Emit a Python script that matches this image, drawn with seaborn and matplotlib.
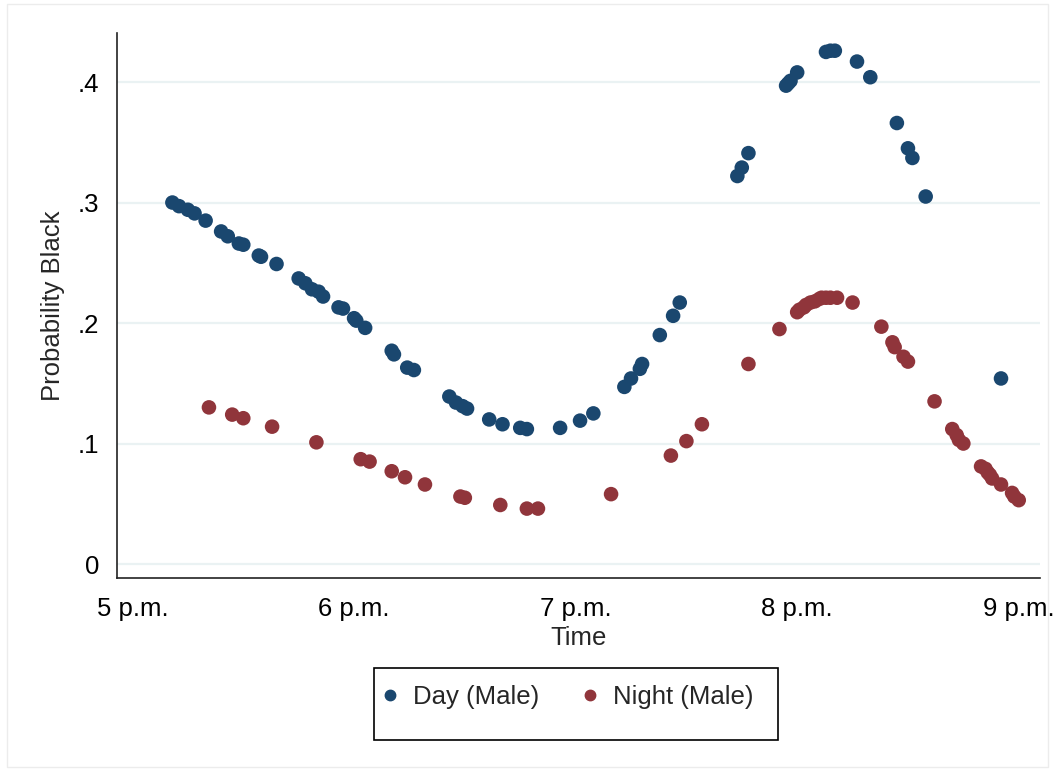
import numpy as np
import pandas as pd
import matplotlib
matplotlib.use("Agg")
import matplotlib.pyplot as plt
import seaborn as sns
from matplotlib.patches import Rectangle
from matplotlib.lines import Line2D

# ---- data (time in decimal hours, probability) ----
day_time = [17.18, 17.21, 17.25, 17.28, 17.33, 17.40, 17.43, 17.48, 17.50, 17.57,
            17.58, 17.65, 17.75, 17.78, 17.81, 17.84, 17.86, 17.93, 17.95, 18.00,
            18.01, 18.05, 18.17, 18.18, 18.24, 18.27, 18.43, 18.46, 18.49, 18.51,
            18.61, 18.67, 18.75, 18.78, 18.93, 19.02, 19.08, 19.22, 19.25, 19.29,
            19.30, 19.38, 19.44, 19.47, 19.73, 19.75, 19.78, 19.95, 19.96, 19.97,
            20.00, 20.13, 20.15, 20.17, 20.27, 20.33, 20.45, 20.50, 20.52, 20.58,
            20.92]
day_prob = [.300, .297, .294, .291, .285, .276, .272, .266, .265, .256,
            .255, .249, .237, .233, .228, .226, .222, .213, .212, .204,
            .202, .196, .177, .174, .163, .161, .139, .134, .131, .129,
            .120, .116, .113, .112, .113, .119, .125, .147, .154, .162,
            .166, .190, .206, .217, .322, .329, .341, .397, .399, .401,
            .408, .425, .426, .426, .417, .404, .366, .345, .337, .305,
            .154]

night_time = [17.345, 17.45, 17.50, 17.63, 17.83, 18.03, 18.07, 18.17, 18.23, 18.32,
              18.48, 18.50, 18.66, 18.78, 18.83, 19.16, 19.43, 19.50, 19.57, 19.78,
              19.92, 20.00, 20.01, 20.03, 20.04, 20.06, 20.08, 20.10, 20.11, 20.13,
              20.15, 20.18, 20.25, 20.38, 20.43, 20.44, 20.48, 20.50, 20.62, 20.70,
              20.72, 20.73, 20.75, 20.83, 20.85, 20.86, 20.87, 20.88, 20.92, 20.97,
              20.98, 21.00]
night_prob = [.130, .124, .121, .114, .101, .087, .085, .077, .072, .066,
              .056, .055, .049, .046, .046, .058, .090, .102, .116, .166,
              .195, .209, .211, .213, .215, .217, .218, .220, .221, .221,
              .221, .221, .217, .197, .184, .180, .172, .168, .135, .112,
              .107, .103, .100, .081, .079, .076, .074, .071, .066, .059,
              .056, .053]

series_labels = ["Day (Male)", "Night (Male)"]
x_ticks = [17, 18, 19, 20, 21]
x_ticklabels = ["5 p.m.", "6 p.m.", "7 p.m.", "8 p.m.", "9 p.m."]
y_ticks = [0, 0.1, 0.2, 0.3, 0.4]
y_ticklabels = ["0", ".1", ".2", ".3", ".4"]

df = pd.concat([
    pd.DataFrame({"Time": day_time, "Prob": day_prob, "Series": series_labels[0]}),
    pd.DataFrame({"Time": night_time, "Prob": night_prob, "Series": series_labels[1]}),
], ignore_index=True)

sns.set_style("white")
plt.rcParams["font.family"] = ["Liberation Sans", "DejaVu Sans"]

FS = 18.5

fig = plt.figure(figsize=(10.55, 7.71), dpi=100)
fig.patch.set_facecolor("white")
# faint outer graph-region frame
fig.add_artist(Rectangle((7 / 1055, 0.005), 1 - 14 / 1055, 0.99, transform=fig.transFigure,
                         fill=False, edgecolor="#ececec", linewidth=1.0))

ax = fig.add_axes([117 / 1055, 1 - 578 / 771, (1040 - 117) / 1055, (578 - 33) / 771])

palette = {series_labels[0]: "#1a476f", series_labels[1]: "#90353b"}
sns.scatterplot(data=df, x="Time", y="Prob", hue="Series", palette=palette,
                s=110, edgecolor="none", linewidth=0, ax=ax, zorder=3, legend=False)

ax.set_xlim(16.93, 21.096)
ax.set_ylim(-0.0116, 0.4407)

for yv in y_ticks:
    ax.axhline(yv, color="#eaf2f3", linewidth=1.6, zorder=1)

ax.set_xticks(x_ticks)
ax.set_xticklabels(x_ticklabels, fontsize=FS)
ax.set_yticks(y_ticks)
ax.set_yticklabels(y_ticklabels, fontsize=FS)
ax.tick_params(axis="both", direction="out", length=8, width=1.2, color="#222222",
               labelcolor="black")
ax.tick_params(axis="y", pad=5)
ax.tick_params(axis="x", pad=6)

for side in ["top", "right"]:
    ax.spines[side].set_visible(False)
for side in ["left", "bottom"]:
    ax.spines[side].set_color("#222222")
    ax.spines[side].set_linewidth(1.2)

ax.set_xlabel("Time", fontsize=FS, labelpad=3)
ax.set_ylabel("Probability Black", fontsize=FS, labelpad=9)

# legend box (Stata style) and entries
fig.add_artist(Rectangle((374 / 1055, 1 - 740 / 771), (778 - 374) / 1055, (740 - 668) / 771,
                         transform=fig.transFigure, fill=False, edgecolor="black",
                         linewidth=1.2))
handles = [Line2D([0], [0], marker="o", linestyle="none", markersize=7.5,
                  markerfacecolor=palette[l], markeredgecolor=palette[l]) for l in series_labels]
leg = fig.legend(handles, series_labels, loc="center left",
                 bbox_to_anchor=(377 / 1055, 1 - 697 / 771), ncol=2, fontsize=FS,
                 frameon=False, borderpad=0, borderaxespad=0,
                 columnspacing=1.48, handletextpad=0.4, handlelength=1.0)

fig.savefig("out.png", dpi=100)
